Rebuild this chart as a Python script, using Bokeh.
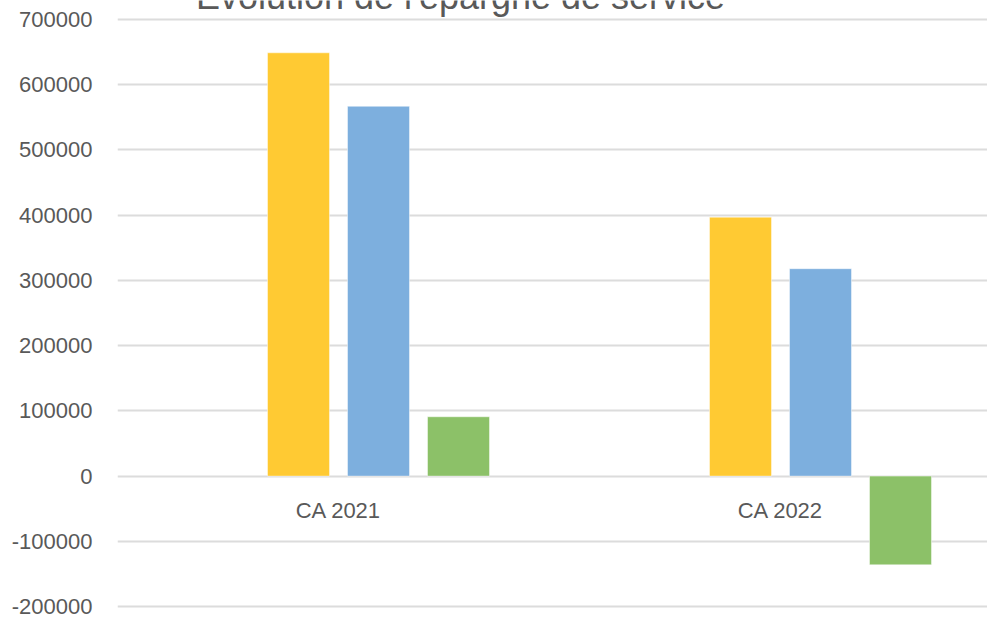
from bokeh.plotting import figure
from bokeh.models import Range1d, SingleIntervalTicker, NumeralTickFormatter, Label, ColumnDataSource
from bokeh.core.properties import value
from bokeh.embed import file_html
from bokeh.resources import INLINE

# ---- data ----
title_text = "Évolution de l'épargne de service"
categories = ["CA 2021", "CA 2022"]
series_yellow = [649000, 397000]
series_blue = [567000, 318000]
series_green = [91000, -136000]
colors = ["#FFCA33", "#7DAFDE", "#8CC168"]
y_ticks_interval = 100000

FONT = "Liberation Sans"
GREY = "#595959"

# layout: 4 slots per category (first slot empty), category width 1
slot = 80 / 442
bar_w = 62 / 442
offsets = [-0.5 * slot, 0.5 * slot, 1.5 * slot]

p = figure(width=987, height=618, output_backend="svg", toolbar_location=None,
           x_range=Range1d(0, 870 / 442), y_range=Range1d(-218300, 729200),
           min_border_left=117, min_border_right=0, min_border_top=0, min_border_bottom=0)
p.outline_line_color = None
p.background_fill_color = "white"
p.border_fill_color = "white"

centers = [i + 0.5 for i in range(len(categories))]
for vals, col, off in zip([series_yellow, series_blue, series_green], colors, offsets):
    src = ColumnDataSource(dict(x=[c + off for c in centers], top=vals))
    p.vbar(x="x", top="top", bottom=0, width=bar_w, source=src,
           fill_color=col, line_color="white", line_alpha=0.45, line_width=1)

# category labels under the zero line
lab_src = ColumnDataSource(dict(x=centers, y=[0] * len(categories), t=categories))
p.text(x="x", y="y", text="t", source=lab_src, text_align="center", text_baseline="top",
       y_offset=22, text_font=value(FONT), text_font_size="22px", text_color=GREY)

p.xaxis.visible = False
p.xgrid.visible = False

yax = p.yaxis[0]
yax.ticker = SingleIntervalTicker(interval=y_ticks_interval, num_minor_ticks=0)
yax.formatter = NumeralTickFormatter(format="0")
yax.axis_line_color = None
yax.major_tick_line_color = None
yax.minor_tick_line_color = None
yax.major_tick_out = 0
yax.major_tick_in = 0
yax.major_label_standoff = 25
yax.major_label_text_font = FONT
yax.major_label_text_font_size = "22px"
yax.major_label_text_color = GREY

p.ygrid.grid_line_color = "#dcdcdc"
p.ygrid.grid_line_width = 2
p.ygrid.ticker = yax.ticker

p.add_layout(Label(x=343, y=735400, x_units="screen", text=title_text, text_align="center",
                   text_baseline="alphabetic", text_font=FONT, text_font_size="36px",
                   text_color=GREY))

open("out.html", "w").write(file_html(p, INLINE))
